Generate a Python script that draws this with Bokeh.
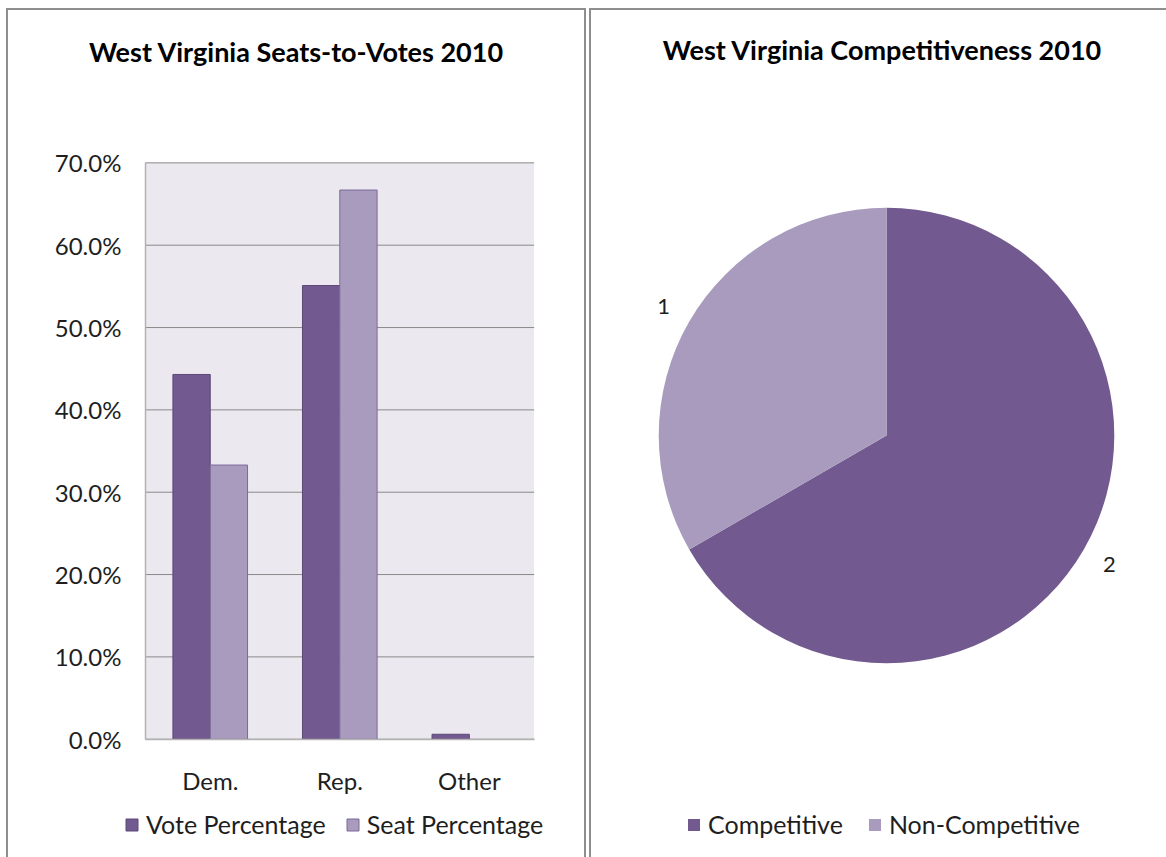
import numpy as np
from bokeh.plotting import figure
from bokeh.layouts import row
from bokeh.models import (ColumnDataSource, Range1d, FixedTicker, PrintfTickFormatter,
                          Label, Legend, LegendItem, BoxAnnotation)
from bokeh.core.properties import value
from bokeh.embed import file_html
from bokeh.resources import INLINE

# --- data -------------------------------------------------------------
parties = ["Dem.", "Rep.", "Other"]
vote_pct = [44.3, 55.1, 0.6]
seat_pct = [33.3, 66.7, 0.0]
pct_ticks = [0, 10, 20, 30, 40, 50, 60, 70]

comp_labels = ["Competitive", "Non-Competitive"]
comp_counts = [2, 1]

# --- style ------------------------------------------------------------
DARK = "#72598f"
LIGHT = "#a99bbd"
DARK_EDGE = "#5c4878"
LIGHT_EDGE = "#7d6a98"
FONT = "Lato"
TEXT = "#1e1e1e"
EDGE = "2px solid #8e8e8e"

# panel geometry (pixels inside each bordered panel)
W_L, H_L = 576, 847
PLOT_L, PLOT_R, PLOT_T, PLOT_B = 136, 522, 152, 727

# --- seats-to-votes bar chart ----------------------------------------
n = len(parties)
y_max = pct_ticks[-1]
px_x = (PLOT_R - PLOT_L) / n
px_y = (PLOT_B - PLOT_T) / y_max
x_rng = Range1d(-PLOT_L / px_x, n + (W_L - PLOT_R) / px_x)
y_rng = Range1d(-(H_L - PLOT_B) / px_y, y_max + PLOT_T / px_y)

left = figure(width=W_L, height=H_L, x_range=x_rng, y_range=y_rng,
              output_backend="svg", toolbar_location=None, frame_align=False,
              min_border=0, min_border_left=0, min_border_right=0,
              min_border_top=0, min_border_bottom=0,
              background_fill_color="white", border_fill_color="white",
              outline_line_color=None, margin=(8, 0, 0, 6),
              styles={"box-sizing": "content-box", "border-left": EDGE,
                      "border-top": EDGE, "border-right": EDGE})
left.title.visible = False
left.grid.visible = False

# plot area shading and horizontal gridlines
left.add_layout(BoxAnnotation(left=0, right=n, bottom=0, top=y_max, fill_color="#ebe8ef",
                              fill_alpha=1, line_color=None, level="image"))
left.segment(x0=0, x1=n, y0=pct_ticks, y1=pct_ticks, line_color="#8a8a8a",
             line_width=1, level="underlay")

centers = np.arange(n) + 0.5
bw = 0.288
src = ColumnDataSource(dict(party=parties, vote=vote_pct, seat=seat_pct,
                            xv=centers - bw / 2, xs=centers + bw / 2,
                            vote_edge=[1.0 if v > 0 else 0.0 for v in vote_pct],
                            seat_edge=[1.0 if v > 0 else 0.0 for v in seat_pct]))
r_vote = left.vbar(x="xv", top="vote", width=bw, source=src,
                   fill_color=DARK, line_color=DARK_EDGE, line_alpha="vote_edge", line_width=1)
r_seat = left.vbar(x="xs", top="seat", width=bw, source=src,
                   fill_color=LIGHT, line_color=LIGHT_EDGE, line_alpha="seat_edge", line_width=1)

xax, yax = left.xaxis[0], left.yaxis[0]
yax.ticker = FixedTicker(ticks=pct_ticks)
yax.formatter = PrintfTickFormatter(format="%.1f%%")
yax.fixed_location = 0
yax.bounds = (0, y_max)
xax.ticker = FixedTicker(ticks=list(centers))
xax.major_label_overrides = {float(c): p for c, p in zip(centers, parties)}
xax.fixed_location = 0
xax.bounds = (0, n)
for ax in (xax, yax):
    ax.axis_line_color = "#b3b3b3"
    ax.axis_line_width = 1.5
    ax.major_tick_line_color = None
    ax.minor_tick_line_color = None
    ax.major_tick_out = 0
    ax.major_tick_in = 0
    ax.major_label_text_font = FONT
    ax.major_label_text_font_size = "24px"
    ax.major_label_text_color = TEXT
yax.major_label_standoff = 24
xax.major_label_standoff = 27

left.add_layout(Label(x=288, y=808, x_units="screen", y_units="screen",
                      text="West Virginia Seats-to-Votes 2010", text_font=FONT,
                      text_font_style="bold", text_font_size="27px", text_color="black",
                      text_align="center", text_baseline="middle"))

leg_left = Legend(items=[LegendItem(label="Vote Percentage", renderers=[r_vote]),
                         LegendItem(label="Seat Percentage", renderers=[r_seat])],
                  orientation="horizontal", location=(116, 20),
                  glyph_width=15, glyph_height=15, label_standoff=7, spacing=19,
                  padding=0, margin=0, border_line_color=None, background_fill_alpha=0,
                  label_text_font=FONT, label_text_font_size="25px", label_text_color=TEXT)
left.add_layout(leg_left, "center")

# --- competitiveness pie ---------------------------------------------
right = figure(width=575, height=847, x_range=Range1d(0, 575), y_range=Range1d(0, 847),
               output_backend="svg", toolbar_location=None, frame_align=False,
               min_border=0, min_border_left=0, min_border_right=0,
               min_border_top=0, min_border_bottom=0, outline_line_color=None,
               margin=(8, 0, 0, 3),
               styles={"box-sizing": "content-box", "border-left": EDGE, "border-top": EDGE})
right.axis.visible = False
right.grid.visible = False
right.title.visible = False

counts = np.array(comp_counts, dtype=float)
frac = counts / counts.sum()
cum = np.cumsum(frac)
starts = np.pi / 2 - 2 * np.pi * (cum - frac)
ends = np.pi / 2 - 2 * np.pi * cum
mids = (starts + ends) / 2

cx, cy, R = 294, 423, 227
pie_src = ColumnDataSource(dict(label=comp_labels, count=comp_counts, start=starts, end=ends,
                                color=[DARK, LIGHT],
                                lx=cx + 1.13 * R * np.cos(mids), ly=cy + 1.13 * R * np.sin(mids),
                                txt=[str(c) for c in comp_counts]))
wedges = right.wedge(x=cx, y=cy, radius=R, start_angle="start", end_angle="end",
                     direction="clock", fill_color="color", line_color=None, source=pie_src)
right.text(x="lx", y="ly", text="txt", source=pie_src, text_font=value(FONT),
           text_font_size="22px", text_color=TEXT, text_align="center", text_baseline="middle")

right.add_layout(Label(x=290, y=808, x_units="data", y_units="data",
                       text="West Virginia Competitiveness 2010", text_font=FONT,
                       text_font_style="bold", text_font_size="27px", text_color="black",
                       text_align="center", text_baseline="middle"))

leg_right = Legend(items=[LegendItem(label=comp_labels[0], renderers=[wedges], index=0),
                          LegendItem(label=comp_labels[1], renderers=[wedges], index=1)],
                   orientation="horizontal", location=(95, 20),
                   glyph_width=15, glyph_height=15, label_standoff=7, spacing=24,
                   padding=0, margin=0, border_line_color=None, background_fill_alpha=0,
                   label_text_font=FONT, label_text_font_size="25px", label_text_color=TEXT)
right.add_layout(leg_right, "center")

layout = row(left, right, spacing=0)
open("out.html", "w").write(file_html(layout, INLINE))
